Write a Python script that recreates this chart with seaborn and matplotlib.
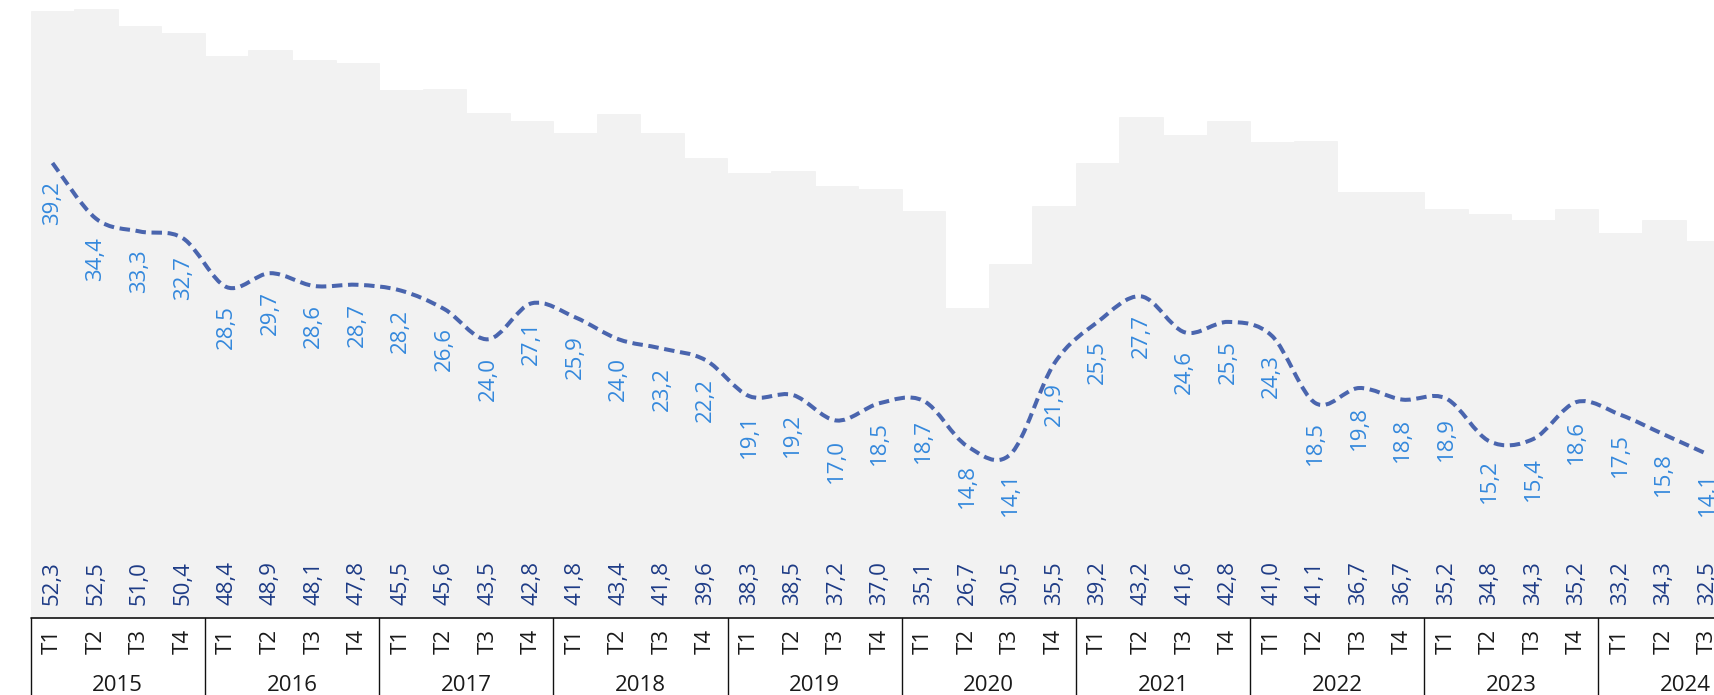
import numpy as np
import pandas as pd
import matplotlib
matplotlib.use("Agg")
import matplotlib.pyplot as plt
import matplotlib.transforms as mtransforms
from matplotlib.path import Path
from matplotlib.patches import PathPatch
import seaborn as sns


years = ['2015', '2016', '2017', '2018', '2019', '2020', '2021', '2022', '2023', '2024']
quarters = ['T1', 'T2', 'T3', 'T4']

# grey bars (labels at the bottom)
bar_values = [52.3, 52.5, 51.0, 50.4,
              48.4, 48.9, 48.1, 47.8,
              45.5, 45.6, 43.5, 42.8,
              41.8, 43.4, 41.8, 39.6,
              38.3, 38.5, 37.2, 37.0,
              35.1, 26.7, 30.5, 35.5,
              39.2, 43.2, 41.6, 42.8,
              41.0, 41.1, 36.7, 36.7,
              35.2, 34.8, 34.3, 35.2,
              33.2, 34.3, 32.5]

# dashed smoothed line
line_values = [39.2, 34.4, 33.3, 32.7,
               28.5, 29.7, 28.6, 28.7,
               28.2, 26.6, 24.0, 27.1,
               25.9, 24.0, 23.2, 22.2,
               19.1, 19.2, 17.0, 18.5,
               18.7, 14.8, 14.1, 21.9,
               25.5, 27.7, 24.6, 25.5,
               24.3, 18.5, 19.8, 18.8,
               18.9, 15.2, 15.4, 18.6,
               17.5, 15.8, 14.1]

n = len(bar_values)
period_year = [years[i // 4] for i in range(n)]
period_q = [quarters[i % 4] for i in range(n)]
df = pd.DataFrame({'period': [f'{y} {q}' for y, q in zip(period_year, period_q)],
                   'bars': bar_values, 'line': line_values})

BAR_COLOR = '#f2f2f2'
LINE_COLOR = '#4a65ae'
LINE_LABEL_COLOR = '#3488dc'
BAR_LABEL_COLOR = '#1d3b86'
FS = 16

sns.set_style('white')
plt.rcParams['font.family'] = ['Open Sans', 'DejaVu Sans']

W, H = 1714, 695
fig = plt.figure(figsize=(W / 100, H / 100), dpi=100)
left_px, axis_px, step_px = 30.7, 617.7, 43.55
ax = fig.add_axes([left_px / W, 1 - axis_px / H, 1 - left_px / W, axis_px / H])

sns.barplot(data=df, x='period', y='bars', color=BAR_COLOR, width=1.0,
            saturation=1, edgecolor=BAR_COLOR, linewidth=0.6, ax=ax)

# smoothed line: catmull-rom as cubic bezier segments
xs = np.arange(n, dtype=float)
ys = np.array(line_values)
pts = np.column_stack([xs, ys])
ext = np.vstack([pts[0], pts, pts[-1]])
verts = [tuple(pts[0])]
codes = [Path.MOVETO]
for i in range(n - 1):
    p0, p1, p2, p3 = ext[i], ext[i + 1], ext[i + 2], ext[i + 3]
    c1 = p1 + (p2 - p0) / 6
    c2 = p2 - (p3 - p1) / 6
    verts += [tuple(c1), tuple(c2), tuple(p2)]
    codes += [Path.CURVE4] * 3
ax.add_patch(PathPatch(Path(verts, codes), facecolor='none', edgecolor=LINE_COLOR,
                       linewidth=2.9, linestyle=(0, (2.6, 1.4)), capstyle='butt', zorder=3))

# value labels
for i in range(n):
    ax.annotate(f'{line_values[i]:.1f}'.replace('.', ','), xy=(i, line_values[i]),
                xytext=(0, -13), textcoords='offset points', rotation=90,
                ha='center', va='top', fontsize=FS, color=LINE_LABEL_COLOR,
                annotation_clip=False)
    ax.annotate(f'{bar_values[i]:.1f}'.replace('.', ','), xy=(i, 0),
                xytext=(0, 9), textcoords='offset points', rotation=90,
                ha='center', va='bottom', fontsize=FS, color=BAR_LABEL_COLOR,
                annotation_clip=False)

# two level x axis
trans = mtransforms.blended_transform_factory(ax.transData, ax.transAxes)
for i in range(n):
    ax.annotate(period_q[i], xy=(i, 0), xycoords=trans, xytext=(0, -24 * 0.72),
                textcoords='offset points', rotation=90, ha='center', va='center',
                fontsize=FS, color='#1a1a1a', annotation_clip=False)
for k, yr in enumerate(years):
    ax.annotate(yr, xy=(4 * k + 1.5, 0), xycoords=trans, xytext=(0, -68 * 0.72),
                textcoords='offset points', ha='center', va='center',
                fontsize=FS, color='#1a1a1a', annotation_clip=False)
    ax.plot([4 * k - 0.5, 4 * k - 0.5], [0, -0.2], transform=trans, color='#111111',
            linewidth=1.0, clip_on=False)

ax.axhline(0, color='#111111', linewidth=1.2, clip_on=False)
ax.set_xlim(-0.5, -0.5 + (W - left_px) / step_px)
ax.set_ylim(0, axis_px / 11.6)
ax.set_xticks([])
ax.set_yticks([])
ax.set_xlabel('')
ax.set_ylabel('')
for side in ['top', 'right', 'left', 'bottom']:
    ax.spines[side].set_visible(False)

fig.savefig('out.png', dpi=100)
